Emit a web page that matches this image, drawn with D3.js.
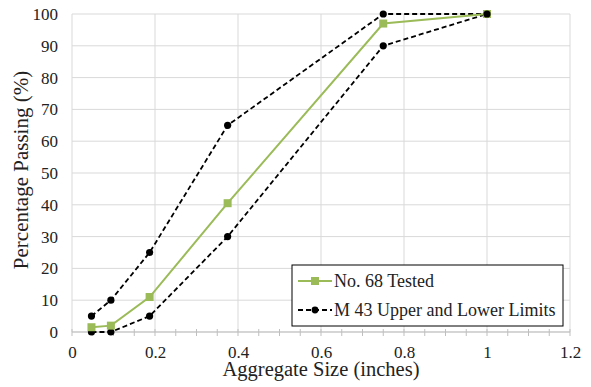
<!DOCTYPE html>
<html>
<head>
<meta charset="utf-8">
<script src="https://cdn.jsdelivr.net/npm/d3@7/dist/d3.min.js"></script>
<style>
  body { margin: 0; background: #fff; }
</style>
</head>
<body>
<svg id="chart"></svg>
<script>
// sieve sizes (inches) and percent passing
const sizes = [0.0469, 0.0937, 0.187, 0.375, 0.75, 1.0];
const tested = [1.5, 2, 11, 40.5, 97, 100];
const upperLimit = [5, 10, 25, 65, 100, 100];
const lowerLimit = [0, 0, 5, 30, 90, 100];
const xTicks = [0, 0.2, 0.4, 0.6, 0.8, 1, 1.2];
const yTicks = [0, 10, 20, 30, 40, 50, 60, 70, 80, 90, 100];
const legendLabels = ["No. 68 Tested", "M 43 Upper and Lower Limits"];

const width = 591, height = 387;
const margin = { left: 72, right: 21, top: 14, bottom: 55 };
const green = "#9bbb59";
const serif = "Liberation Serif";

const svg = d3.select("#chart").attr("width", width).attr("height", height);

const x = d3.scaleLinear().domain([0, 1.2]).range([margin.left, width - margin.right]);
const y = d3.scaleLinear().domain([0, 100]).range([height - margin.bottom, margin.top]);

// grid
svg.append("g").selectAll("line").data(yTicks).enter().append("line")
  .attr("x1", x(0)).attr("x2", x(1.2))
  .attr("y1", d => y(d)).attr("y2", d => y(d))
  .attr("stroke", "#d9d9d9").attr("stroke-width", 1);
svg.append("g").selectAll("line").data(xTicks).enter().append("line")
  .attr("x1", d => x(d)).attr("x2", d => x(d))
  .attr("y1", y(0)).attr("y2", y(100))
  .attr("stroke", "#d9d9d9").attr("stroke-width", 1);

// x axis with minor ticks
const minor = d3.range(0, 1.2001, 0.05);
svg.append("g").selectAll("line").data(minor).enter().append("line")
  .attr("x1", d => x(d)).attr("x2", d => x(d))
  .attr("y1", y(0) - 3).attr("y2", y(0) + 4)
  .attr("stroke", "#bfbfbf");
svg.append("line")
  .attr("x1", x(0)).attr("x2", x(1.2)).attr("y1", y(0)).attr("y2", y(0))
  .attr("stroke", "#bfbfbf");

const xAxis = svg.append("g")
  .attr("transform", "translate(0," + y(0) + ")")
  .call(d3.axisBottom(x).tickValues(xTicks).tickFormat(d => String(d)).tickSize(0).tickPadding(14));
xAxis.select(".domain").remove();
xAxis.attr("font-family", serif).attr("font-size", 17);
xAxis.selectAll("text").style("font-family", serif).style("font-size", "17px").attr("fill", "#222");

const yAxis = svg.append("g")
  .attr("transform", "translate(" + x(0) + ",0)")
  .call(d3.axisLeft(y).tickValues(yTicks).tickSize(0).tickPadding(14));
yAxis.select(".domain").remove();
yAxis.attr("font-family", serif).attr("font-size", 17);
yAxis.selectAll("text").style("font-family", serif).style("font-size", "17px").attr("fill", "#222");

// axis titles
svg.append("text")
  .attr("x", (x(0) + x(1.2)) / 2).attr("y", 376)
  .attr("text-anchor", "middle").attr("fill", "#222")
  .style("font-family", serif).style("font-size", "20.5px")
  .text("Aggregate Size (inches)");
svg.append("text")
  .attr("transform", "translate(28,170) rotate(-90)")
  .attr("text-anchor", "middle").attr("fill", "#222")
  .style("font-family", serif).style("font-size", "21px")
  .text("Percentage Passing (%)");

const line = d3.line().x(d => x(d[0])).y(d => y(d[1]));

// limits
[upperLimit, lowerLimit].forEach(vals => {
  const pts = sizes.map((s, i) => [s, vals[i]]);
  svg.append("path").datum(pts).attr("d", line)
    .attr("fill", "none").attr("stroke", "#000").attr("stroke-width", 1.8)
    .attr("stroke-dasharray", "5,3");
  svg.append("g").selectAll("circle").data(pts).enter().append("circle")
    .attr("cx", d => x(d[0])).attr("cy", d => y(d[1])).attr("r", 3.6).attr("fill", "#000");
});

// tested
const testedPts = sizes.map((s, i) => [s, tested[i]]);
svg.append("path").datum(testedPts).attr("d", line)
  .attr("fill", "none").attr("stroke", green).attr("stroke-width", 2);
svg.append("g").selectAll("rect").data(testedPts).enter().append("rect")
  .attr("x", d => x(d[0]) - 4).attr("y", d => y(d[1]) - 4)
  .attr("width", 8).attr("height", 8).attr("fill", green);

// the dot at x=1 sits on top in the reference
svg.append("circle").attr("cx", x(1)).attr("cy", y(100)).attr("r", 3.6).attr("fill", "#000");

// legend
const lg = svg.append("g").attr("transform", "translate(292,265)");
lg.append("rect").attr("width", 271).attr("height", 61)
  .attr("fill", "#fff").attr("stroke", "#000").attr("stroke-width", 1);
lg.append("line").attr("x1", 6).attr("x2", 40).attr("y1", 16).attr("y2", 16)
  .attr("stroke", green).attr("stroke-width", 2);
lg.append("rect").attr("x", 19).attr("y", 12).attr("width", 8).attr("height", 8).attr("fill", green);
lg.append("text").attr("x", 42).attr("y", 22).attr("fill", "#222")
  .style("font-family", serif).style("font-size", "18px").text(legendLabels[0]);
lg.append("line").attr("x1", 6).attr("x2", 40).attr("y1", 45).attr("y2", 45)
  .attr("stroke", "#000").attr("stroke-width", 1.8).attr("stroke-dasharray", "5,3");
lg.append("circle").attr("cx", 23).attr("cy", 45).attr("r", 3.4).attr("fill", "#000");
lg.append("text").attr("x", 42).attr("y", 51).attr("fill", "#222")
  .style("font-family", serif).style("font-size", "18px").text(legendLabels[1]);
</script>
</body>
</html>
